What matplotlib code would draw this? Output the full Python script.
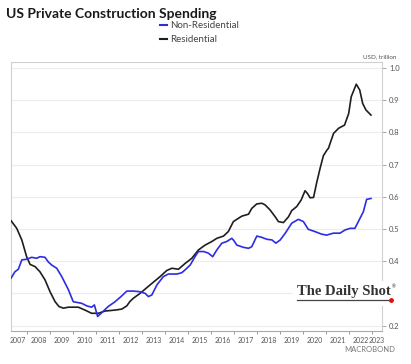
import matplotlib.pyplot as plt
from matplotlib.lines import Line2D
from matplotlib.patches import Rectangle

# values (decimal year, USD trillion)
res_year = [2007.29, 2007.54, 2007.76, 2007.97, 2008.12, 2008.34, 2008.55, 2008.77,
            2008.99, 2009.21, 2009.38, 2009.57, 2009.79, 2010.22, 2010.51, 2010.80,
            2011.09, 2011.38, 2011.82, 2012.11, 2012.33, 2012.47, 2012.62, 2012.91,
            2013.34, 2013.78, 2014.07, 2014.29, 2014.58, 2014.87, 2015.16, 2015.45,
            2015.74, 2016.03, 2016.25, 2016.54, 2016.75, 2016.97, 2017.12, 2017.34,
            2017.63, 2017.77, 2017.99, 2018.21, 2018.35, 2018.57, 2018.79, 2018.93,
            2019.15, 2019.37, 2019.51, 2019.73, 2019.92, 2020.09, 2020.20, 2020.31,
            2020.46, 2020.60, 2020.75, 2020.89, 2021.04, 2021.11, 2021.33, 2021.55,
            2021.81, 2021.99, 2022.10, 2022.32, 2022.47, 2022.60, 2022.74, 2022.96]
res_value = [0.526, 0.502, 0.466, 0.414, 0.390, 0.383, 0.367, 0.342,
             0.305, 0.274, 0.259, 0.254, 0.257, 0.257, 0.248, 0.238,
             0.238, 0.245, 0.248, 0.251, 0.261, 0.275, 0.285, 0.300,
             0.326, 0.352, 0.371, 0.378, 0.375, 0.393, 0.409, 0.435,
             0.450, 0.461, 0.471, 0.478, 0.492, 0.523, 0.530, 0.540,
             0.546, 0.564, 0.578, 0.580, 0.575, 0.559, 0.538, 0.523,
             0.520, 0.538, 0.557, 0.570, 0.590, 0.619, 0.610, 0.597,
             0.598, 0.645, 0.690, 0.728, 0.745, 0.751, 0.797, 0.813,
             0.823, 0.859, 0.911, 0.950, 0.932, 0.890, 0.870, 0.854]

nonres_year = [2007.29, 2007.46, 2007.61, 2007.76, 2007.97, 2008.19, 2008.41, 2008.55,
               2008.77, 2008.91, 2009.06, 2009.28, 2009.50, 2009.79, 2010.00, 2010.37,
               2010.59, 2010.80, 2010.92, 2011.06, 2011.24, 2011.52, 2011.82, 2012.11,
               2012.33, 2012.62, 2012.91, 2013.13, 2013.27, 2013.42, 2013.64, 2013.92,
               2014.14, 2014.51, 2014.72, 2014.87, 2015.09, 2015.30, 2015.45, 2015.67,
               2015.88, 2016.07, 2016.25, 2016.47, 2016.68, 2016.90, 2016.98, 2017.12,
               2017.41, 2017.63, 2017.77, 2017.99, 2018.21, 2018.43, 2018.65, 2018.82,
               2019.01, 2019.23, 2019.51, 2019.80, 2020.02, 2020.23, 2020.52, 2020.81,
               2021.03, 2021.32, 2021.61, 2021.83, 2022.05, 2022.26, 2022.41, 2022.63,
               2022.77, 2022.96]
nonres_value = [0.347, 0.367, 0.375, 0.404, 0.406, 0.412, 0.409, 0.414,
                0.412, 0.398, 0.388, 0.378, 0.352, 0.311, 0.274, 0.269,
                0.261, 0.257, 0.264, 0.228, 0.240, 0.259, 0.274, 0.292,
                0.307, 0.307, 0.305, 0.300, 0.290, 0.295, 0.326, 0.352,
                0.360, 0.360, 0.364, 0.373, 0.388, 0.414, 0.430, 0.430,
                0.425, 0.414, 0.435, 0.456, 0.461, 0.471, 0.465, 0.450,
                0.443, 0.440, 0.445, 0.478, 0.474, 0.468, 0.466, 0.456,
                0.466, 0.487, 0.518, 0.530, 0.523, 0.499, 0.492, 0.484,
                0.481, 0.487, 0.487, 0.497, 0.502, 0.502, 0.523, 0.554,
                0.592, 0.595]

year_labels = [str(y) for y in range(2007, 2024)]
y_ticks = [0.2, 0.3, 0.4, 0.5, 0.6, 0.7, 0.8, 0.9, 1.0]

plt.rcParams['font.family'] = ['Lato', 'DejaVu Sans']

W, H = 411, 364
fig = plt.figure(figsize=(W / 100, H / 100), dpi=100)
ax = fig.add_axes([11 / W, (H - 331) / H, (382 - 11) / W, (331 - 62) / H])

ax.plot(res_year, res_value, color='#1e1e1e', lw=1.2, zorder=3)
ax.plot(nonres_year, nonres_value, color='#2d2de0', lw=1.2, zorder=4)

ax.set_xlim(2007.29, 2023.44)
ax.set_ylim(0.183, 1.019)

# year ticks on Jan 1, labels centred in each year
ax.set_xticks(range(2008, 2024))
ax.set_xticklabels([])
label_pos = [y + 0.5 for y in range(2007, 2023)] + [2023.2]
label_pos[0] = 2007.6
ax.set_xticks(label_pos, minor=True)
ax.set_xticklabels(year_labels, minor=True)
ax.tick_params(axis='x', which='major', direction='out', length=2.5,
               color='#888888', width=0.6)
ax.tick_params(axis='x', which='minor', length=0, pad=4,
               labelsize=5, labelcolor='#555555')

# 0.3 label sits under the logo in the reference
ax.yaxis.tick_right()
ax.set_yticks(y_ticks)
ax.set_yticklabels(['' if v == 0.3 else f'{v:.1f}' for v in y_ticks])
ax.tick_params(axis='y', direction='out', length=3, color='#999999', width=0.6,
               labelsize=5.5, labelcolor='#555555', pad=2)

ax.grid(axis='y', color='#ececec', lw=0.8)
ax.set_axisbelow(True)
for side in ['left', 'top', 'right']:
    ax.spines[side].set_color('#d0d0d0')
    ax.spines[side].set_linewidth(0.8)
ax.spines['bottom'].set_color('#aaaaaa')
ax.spines['bottom'].set_linewidth(0.8)

fig.text(6 / W, 1 - 14 / H, 'US Private Construction Spending', fontsize=10,
         fontweight='bold', color='#1a1a1a', va='center', ha='left')

handles = [Line2D([], [], color='#2d2de0', lw=1.5),
           Line2D([], [], color='#1e1e1e', lw=1.5)]
fig.legend(handles, ['Non-Residential', 'Residential'], loc='upper left',
           bbox_to_anchor=(160 / W, 1 - 21 / H), frameon=False, fontsize=7,
           handlelength=0.7, handletextpad=0.3, labelspacing=0.55,
           labelcolor='#444444', borderaxespad=0, borderpad=0)

fig.text(380 / W, 1 - 57 / H, 'USD, trillion', fontsize=4.5, color='#555555',
         ha='center', va='center')
fig.text(370 / W, 1 - 350 / H, 'MACROBOND', fontsize=5.5, color='#777777',
         ha='center', va='center')

# The Daily Shot logo on a white patch
fig.add_artist(Rectangle((293 / W, 1 - 306 / H), 106 / W, 25 / H,
                         facecolor='white', edgecolor='none', zorder=9))
fig.text(344 / W, 1 - 292 / H, 'The Daily Shot', family='Liberation Serif',
         fontsize=10.5, fontweight='bold', color='#333333', ha='center',
         va='center', zorder=10)
fig.text(392 / W, 1 - 287 / H, '®', fontsize=3.5, color='#333333',
         ha='left', va='center', zorder=11)
fig.add_artist(Line2D([297 / W, 391 / W], [1 - 300 / H, 1 - 300 / H],
                      color='#444444', lw=0.9, zorder=11))
fig.add_artist(Line2D([391 / W], [1 - 300 / H], marker='o', markersize=2.5,
                      color='#e01010', zorder=12))

fig.savefig('out.png', dpi=100)
